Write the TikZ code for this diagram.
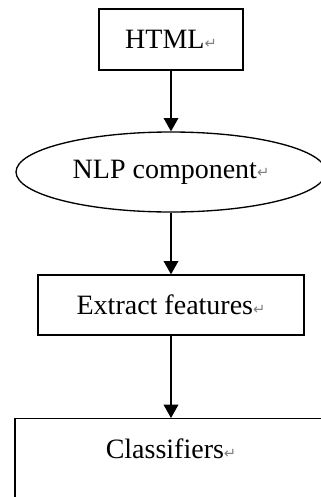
\documentclass[tikz,border=0pt]{standalone}
\usepackage{fontspec}
\setmainfont{Liberation Serif}
\newfontfamily\symfont{DejaVu Sans}
\usepackage{xcolor}
\usepackage{tikz}
\usetikzlibrary{shapes.geometric,arrows.meta,positioning}

\newcommand{\parmark}{{\symfont\fontsize{11}{11}\selectfont\color{gray}\raisebox{0.5pt}{↵}}}

\tikzset{
    box/.style={draw, line width=1pt, rectangle, font=\fontsize{21}{25}\selectfont},
    oval/.style={draw, line width=1pt, ellipse, font=\fontsize{21}{25}\selectfont},
    flow/.style={draw, line width=1pt, -{Triangle[width=11pt,length=10pt]}}
}

\begin{document}
\begin{tikzpicture}[x=0.75pt,y=-0.75pt]
    \useasboundingbox (0,0) rectangle (321,497);

    % Steps
    \node[box, minimum width=108pt, minimum height=45.75pt] (html) at (171,39.5) {HTML\parmark};
    \node[oval, minimum width=232.5pt, minimum height=60pt] (nlp) at (171,172) {NLP component\parmark};
    \node[box, minimum width=199.5pt, minimum height=45pt] (feat) at (171,305) {Extract features\parmark};
    \node[box, minimum width=234pt, minimum height=76.5pt, anchor=north] (clf) at (171,418) {};
    \node[font=\fontsize{21}{25}\selectfont] (clftext) at (171,449) {Classifiers\parmark};

    % Arrows
    \draw[flow] (html) -- (nlp);
    \draw[flow] (nlp) -- (feat);
    \draw[flow] (feat) -- (clf);
\end{tikzpicture}
\end{document}
